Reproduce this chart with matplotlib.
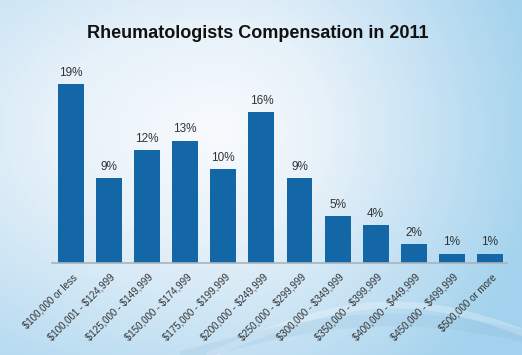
import numpy as np
import matplotlib
matplotlib.use("Agg")
import matplotlib.pyplot as plt
from matplotlib.colors import LinearSegmentedColormap

categories = ["$100,000 or less", "$100,001 - $124,999", "$125,000 - $149,999",
              "$150,000 - $174,999", "$175,000 - $199,999", "$200,000 - $249,999",
              "$250,000 - $299,999", "$300,000 - $349,999", "$350,000 - $399,999",
              "$400,000 - $449,999", "$450,000 - $499,999", "$500,000 or more"]
shares = [19, 9, 12, 13, 10, 16, 9, 5, 4, 2, 1, 1]
title = "Rheumatologists Compensation in 2011"

W, H = 522, 355
fig = plt.figure(figsize=(W / 100, H / 100), dpi=100)

# background: pale center fading to light blue, stronger on the right
bg = fig.add_axes([0, 0, 1, 1])
yy, xx = np.mgrid[0:H, 0:W]
sx = np.where(xx < 220, 520.0, 330.0)
d = np.sqrt(((xx - 220) / sx) ** 2 + ((yy - 130) / 330.0) ** 2)
d = np.clip(d, 0, 1)
cmap = LinearSegmentedColormap.from_list("bgc", ["#f8fbfe", "#e6f1f9", "#c4e1f3", "#a2d2ed"])
bg.imshow(d, cmap=cmap, vmin=0, vmax=1, aspect="auto", extent=(0, W, H, 0))
# faint swooshes at the bottom
t = np.linspace(0, 1, 200)
bg.plot(210 + 312 * t, 355 - 50 * np.sin(np.pi * t * 0.85), color="white", alpha=0.25, lw=5)
bg.plot(180 + 342 * t, 358 - 38 * np.sin(np.pi * t * 0.8), color="#8db6d6", alpha=0.18, lw=9)
bg.set_xlim(0, W)
bg.set_ylim(H, 0)
bg.axis("off")

ax = fig.add_axes([52 / W, (H - 263) / H, (507 - 52) / W, (263 - 74.6) / H])
ax.patch.set_alpha(0)
x = np.arange(len(categories))
ax.bar(x, shares, width=0.68, color="#1467a6", zorder=2)
for xi, v in zip(x, shares):
    ax.text(xi, v + 0.55, f"{v}%", ha="center", va="bottom", fontsize=8.5,
            color="#333333", family=["Liberation Sans", "DejaVu Sans"])

ax.set_xlim(-0.5, 11.45)
ax.set_ylim(0, 20)
ax.set_yticks([])
ax.set_xticks(x + 0.12)
ax.set_xticklabels([c.replace("$", r"\$") for c in categories], rotation=45,
                   ha="right", va="center", rotation_mode="anchor", fontsize=7,
                   color="#333333", family=["Liberation Sans", "DejaVu Sans"])
ax.tick_params(axis="x", length=0, pad=9)
for s in ["top", "right", "left"]:
    ax.spines[s].set_visible(False)
ax.spines["bottom"].set_color("#a9b3bc")
ax.spines["bottom"].set_linewidth(1.2)

fig.text(258 / W, 1 - 33 / H, title, ha="center", va="center", fontsize=13,
         fontweight="bold", color="#111111", family=["Liberation Sans", "DejaVu Sans"])

fig.savefig("out.png", dpi=100)
